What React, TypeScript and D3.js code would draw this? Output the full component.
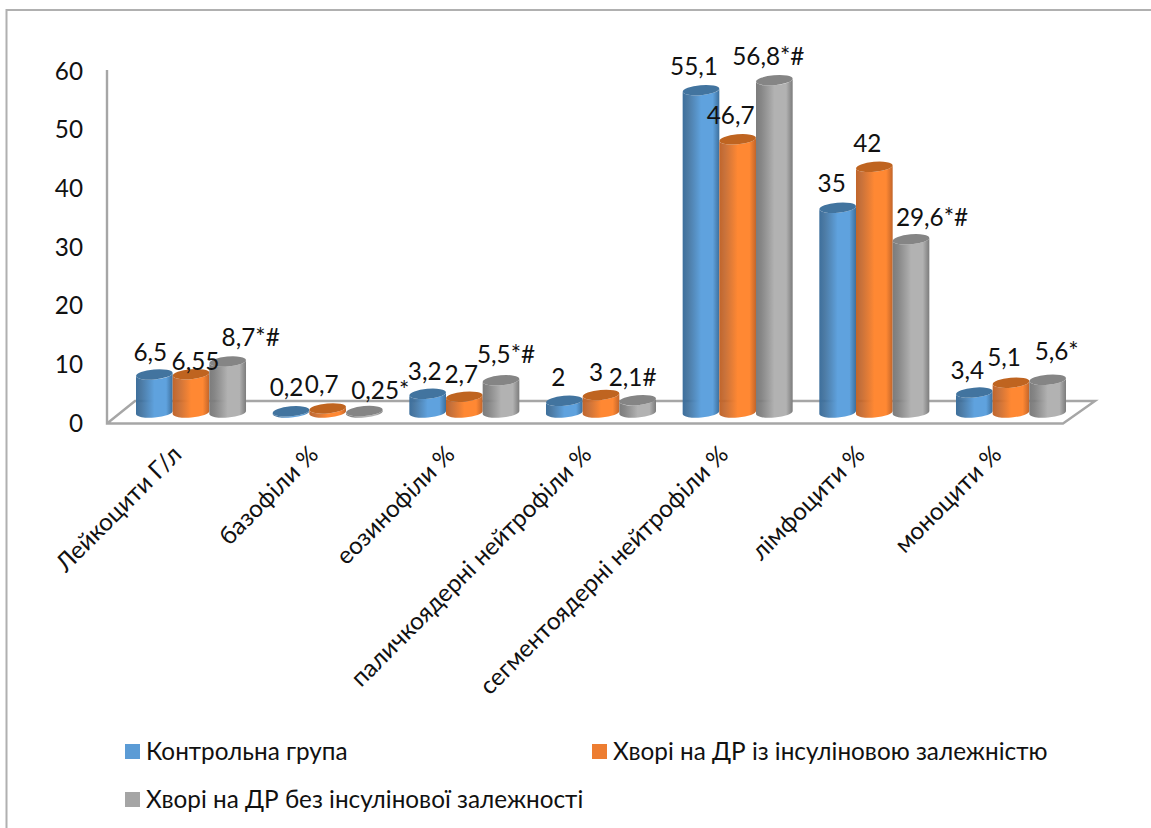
import React from "react";
import * as d3 from "d3";

const categories = [
  "Лейкоцити Г/л",
  "базофіли %",
  "еозинофіли %",
  "паличкоядерні нейтрофіли %",
  "сегментоядерні нейтрофіли %",
  "лімфоцити %",
  "моноцити %",
];
const seriesNames = [
  "Контрольна група",
  "Хворі на ДР із інсуліновою залежністю",
  "Хворі на ДР без інсулінової залежності",
];
const controlValues = [6.5, 0.2, 3.2, 2, 55.1, 35, 3.4];
const insulinValues = [6.55, 0.7, 2.7, 3, 46.7, 42, 5.1];
const noInsulinValues = [8.7, 0.25, 5.5, 2.1, 56.8, 29.6, 5.6];
const controlLabels = ["6,5", "0,2", "3,2", "2", "55,1", "35", "3,4"];
const insulinLabels = ["6,55", "0,7", "2,7", "3", "46,7", "42", "5,1"];
const noInsulinLabels = ["8,7*#", "0,25*", "5,5*#", "2,1#", "56,8*#", "29,6*#", "5,6*"];
const axisTicks = [0, 10, 20, 30, 40, 50, 60];

// Hand placement of the data labels relative to each cylinder's top, [dx, dy].
const controlNudges = [[-4, -22], [-4.5, -24], [-3, -23], [-6, -24], [-7, -24], [-6, -24], [-7, -22]];
const insulinNudges = [[4.5, -13], [-6, -24], [-3, -22], [-5, -23], [-7, -24], [-7, -24], [-7, -25]];
const noInsulinNudges = [[23, -24], [16, -21], [5, -26], [-5, -23], [-6, -24], [21, -22], [9, -28]];

const series = [
  { id: "blue", values: controlValues, labels: controlLabels, nudges: controlNudges, swatch: "#5b9bd5", top: "#42749f", edge: "#3d6f9c", mid: "#5fa2de" },
  { id: "orange", values: insulinValues, labels: insulinLabels, nudges: insulinNudges, swatch: "#ed7d31", top: "#bf6420", edge: "#c2652a", mid: "#ff8833" },
  { id: "grey", values: noInsulinValues, labels: noInsulinLabels, nudges: noInsulinNudges, swatch: "#a5a5a5", top: "#858585", edge: "#7c7c7c", mid: "#b2b2b2" },
];

const FONT = "Lato, 'Noto Sans', sans-serif";
const GRID = "#a6a6a6";
const TEXT_SIZE = 24.3;

const W = 1151;
const H = 828;
const baseY = 412.5;
const floorFront = 423.5;
const floorBack = 401;

// Cylinders stand behind the floor's front edge; the axis labels follow that edge.
const y = d3.scaleLinear().domain([0, 60]).range([baseY, baseY - 351]);
const yAxis = d3.scaleLinear().domain([0, 60]).range([423, 71]);
const x0 = d3.scaleBand<string>().domain(categories).range([136, 1066]).paddingInner(0.195);
const x1 = d3.scaleBand<number>().domain([0, 1, 2]).range([0, x0.bandwidth()]);

const RY = 5;
const ANGLE = -5;
const TILT = 1.6;

function cylinderBody(left: number, right: number, top: number, bottom: number) {
  const rx = (right - left) / 2;
  return [
    `M${left},${top + TILT}`,
    `L${left},${bottom + TILT}`,
    `A${rx},${RY} ${ANGLE} 0 0 ${right},${bottom - TILT}`,
    `L${right},${top - TILT}`,
    `A${rx},${RY} ${ANGLE} 0 1 ${left},${top + TILT}`,
    "Z",
  ].join(" ");
}

export default function App() {
  return (
    <svg
      width={W}
      height={H}
      viewBox={`0 0 ${W} ${H}`}
      style={{ position: "absolute", left: 0, top: 0, display: "block", background: "#fff" }}
      fontFamily={FONT}
      fill="#111"
    >
      <defs>
        {series.map((s) => (
          <linearGradient key={s.id} id={`side-${s.id}`} x1="0" x2="1" y1="0" y2="0">
            <stop offset="0" stopColor={s.edge} />
            <stop offset="0.14" stopColor={s.edge} stopOpacity={0.92} />
            <stop offset="0.5" stopColor={s.mid} />
            <stop offset="0.82" stopColor={s.mid} />
            <stop offset="1" stopColor={s.edge} />
          </linearGradient>
        ))}
      </defs>

      {/* outer chart frame */}
      <path d={`M6.5,${H} V10 H${W}`} fill="none" stroke="#b0b0b0" strokeWidth={2} />

      {/* value axis wall and floor */}
      <g fill="none" stroke={GRID} strokeWidth={2.4}>
        <path d={`M107,70 V${floorFront} H1063 L1095,${floorBack} H135 L107,${floorFront}`} />
      </g>

      {axisTicks.map((t) => (
        <text key={t} x={83} y={yAxis(t)} dy="0.36em" textAnchor="end" fontSize={TEXT_SIZE}>
          {t}
        </text>
      ))}

      {/* cylinders */}
      {categories.map((cat, c) => (
        <g key={cat}>
          {series.map((s, i) => {
            const left = x0(cat)! + x1(i)!;
            const right = left + x1.bandwidth();
            const cx = (left + right) / 2;
            const top = y(s.values[c]);
            return (
              <g key={s.id}>
                <path d={cylinderBody(left, right, top, baseY)} fill={`url(#side-${s.id})`} />
                <ellipse
                  cx={cx}
                  cy={top}
                  rx={(right - left) / 2}
                  ry={RY}
                  fill={s.top}
                  transform={`rotate(${ANGLE} ${cx} ${top})`}
                />
              </g>
            );
          })}
        </g>
      ))}

      {/* data labels */}
      {categories.map((cat, c) =>
        series.map((s, i) => {
          const cx = x0(cat)! + x1(i)! + x1.bandwidth() / 2;
          const [dx, dy] = s.nudges[c];
          return (
            <text
              key={`${cat}-${s.id}`}
              x={cx + dx}
              y={y(s.values[c]) + dy}
              dy="0.36em"
              textAnchor="middle"
              fontSize={TEXT_SIZE}
            >
              {s.labels[c]}
            </text>
          );
        })
      )}

      {/* category labels */}
      {categories.map((cat) => {
        const px = x0(cat)! + x0.bandwidth() / 2 - 20;
        return (
          <text
            key={cat}
            transform={`translate(${px},444) rotate(-45)`}
            textAnchor="end"
            dy="0.7em"
            fontSize={TEXT_SIZE}
          >
            {cat}
          </text>
        );
      })}

      {/* legend */}
      <g fontSize={TEXT_SIZE}>
        <rect x={125} y={744} width={15} height={15} fill={series[0].swatch} />
        <text x={146} y={760}>{seriesNames[0]}</text>
        <rect x={592} y={744} width={15} height={15} fill={series[1].swatch} />
        <text x={613} y={760}>{seriesNames[1]}</text>
        <rect x={125} y={792} width={15} height={15} fill={series[2].swatch} />
        <text x={146} y={808}>{seriesNames[2]}</text>
      </g>
    </svg>
  );
}
